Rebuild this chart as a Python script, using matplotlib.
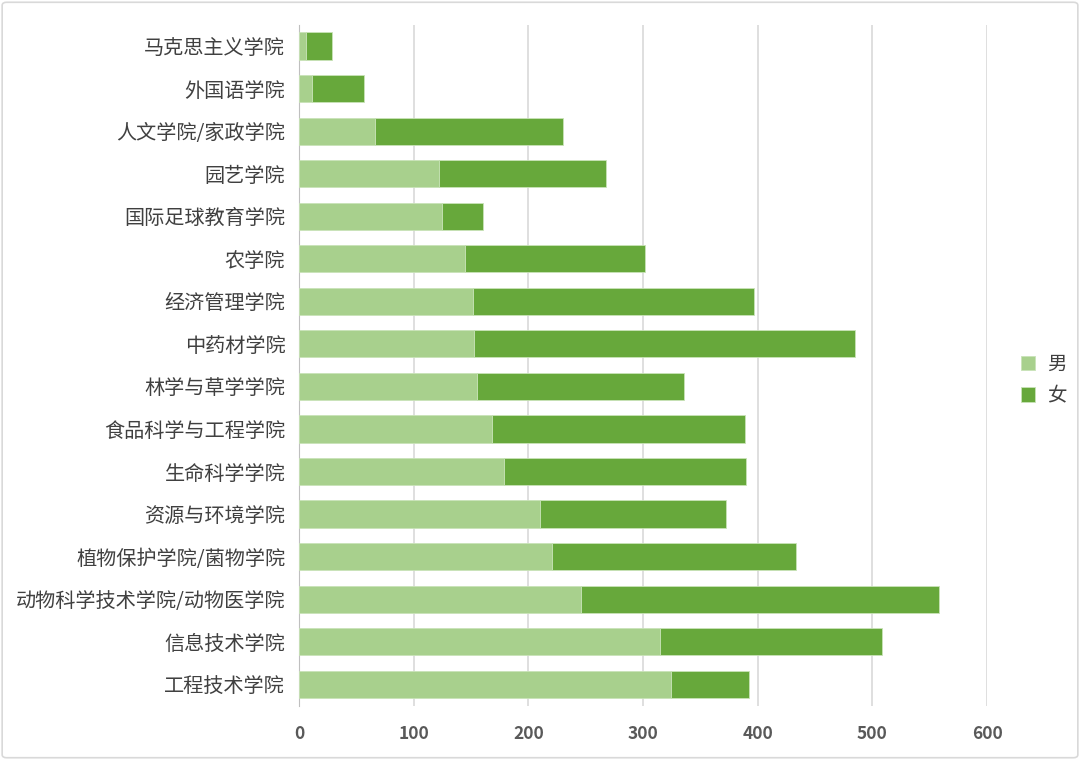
import numpy as np
import matplotlib.pyplot as plt
from matplotlib.patches import FancyBboxPatch

plt.rcParams['font.family'] = ['Noto Sans CJK SC', 'DejaVu Sans']

# Data (top to bottom as shown)
colleges = ['马克思主义学院', '外国语学院', '人文学院/家政学院', '园艺学院',
            '国际足球教育学院', '农学院', '经济管理学院', '中药材学院',
            '林学与草学学院', '食品科学与工程学院', '生命科学学院', '资源与环境学院',
            '植物保护学院/菌物学院', '动物科学技术学院/动物医学院', '信息技术学院', '工程技术学院']
male = [6, 11, 66, 122, 125, 145, 152, 153, 155, 168, 179, 210, 221, 246, 315, 324]
female = [23, 46, 164, 146, 35, 157, 245, 332, 181, 221, 211, 162, 212, 312, 193, 68]
xticks = [0, 100, 200, 300, 400, 500, 600]

c_male = '#A8D08D'
c_female = '#67A83B'

fig = plt.figure(figsize=(10.8, 7.6), dpi=100)
ax = fig.add_axes([0.2769, 0.0717, 0.9139 - 0.2769, 0.9674 - 0.0717])

y = np.arange(len(colleges))
ax.barh(y, male, height=0.64, color=c_male, edgecolor='#C9E3B8', linewidth=0.6, label='男', zorder=3)
ax.barh(y, female, left=male, height=0.64, color=c_female, edgecolor='#C9E3B8', linewidth=0.6, label='女', zorder=3)

ax.set_ylim(len(colleges) - 0.5, -0.5)
ax.set_xlim(0, 600)
ax.set_yticks(y)
ax.set_yticklabels(colleges, fontsize=14.5, color='#404040')
ax.set_xticks(xticks)
ax.set_xticklabels([str(t) for t in xticks], fontsize=12.5, color='#595959', fontweight='bold')

ax.grid(axis='x', color='#D9D9D9', linewidth=1.2, zorder=0)
for s in ['top', 'right', 'bottom']:
    ax.spines[s].set_visible(False)
ax.spines['left'].set_color('#BFBFBF')
ax.tick_params(axis='both', length=0)
ax.tick_params(axis='y', pad=10)
ax.tick_params(axis='x', pad=14)

leg = fig.legend(loc='center left', bbox_to_anchor=(0.929, 0.5), frameon=False,
                 fontsize=14, handlelength=0.75, handleheight=0.75, handletextpad=0.6,
                 labelspacing=0.55)
for t in leg.get_texts():
    t.set_color('#404040')

# chart border
fig.patches.append(FancyBboxPatch((0.002, 0.003), 0.996, 0.994, boxstyle='round,pad=0,rounding_size=0.004',
                                  transform=fig.transFigure, fill=False, edgecolor='#D9D9D9', linewidth=1.2))

fig.savefig('out.png', dpi=100)
